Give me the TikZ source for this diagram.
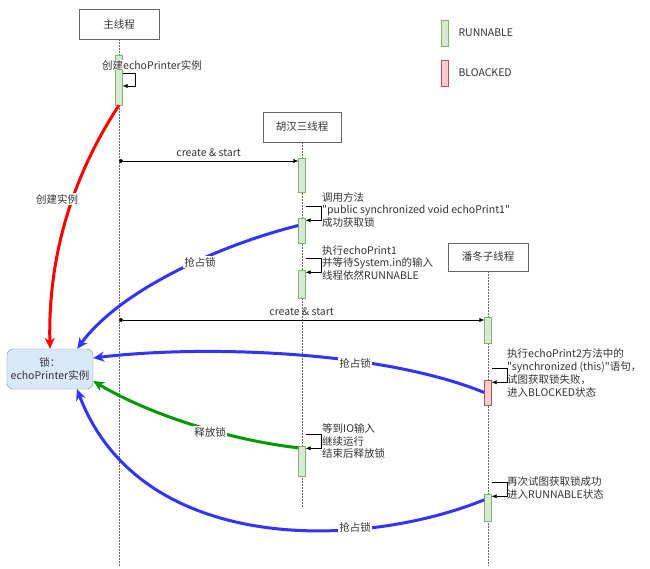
\documentclass[tikz,border=0pt]{standalone}
\usepackage{fontspec}
\newfontfamily\cjk{Noto Sans CJK SC}
\usetikzlibrary{arrows.meta,calc}
\definecolor{runFill}{HTML}{D5E8D4}
\definecolor{runLine}{HTML}{82B366}
\definecolor{blockFill}{HTML}{F8CECC}
\definecolor{blockLine}{HTML}{B85450}
\definecolor{lockFill}{HTML}{DAE8FC}
\definecolor{lockLine}{HTML}{6C8EBF}
\definecolor{boxGray}{HTML}{666666}
\definecolor{textGray}{HTML}{333333}
\definecolor{grabBlue}{HTML}{3333FF}
\definecolor{freeGreen}{HTML}{009900}

\begin{document}
\begin{tikzpicture}[x=1pt,y=-1pt,
    every node/.style={font=\cjk\fontsize{10.5}{12.7}\selectfont, text=textGray},
    threadbox/.style={draw=boxGray, fill=white, minimum width=80, minimum height=30},
    runbar/.style={draw=runLine, fill=runFill, minimum width=7, inner sep=0, minimum height=#1},
    blockbar/.style={draw=blockLine, fill=blockFill, minimum width=7, inner sep=0, minimum height=#1},
    lifeline/.style={draw=boxGray, dash pattern=on 1.5pt off 1.5pt},
    selfcall/.style={draw=black, -{Latex[length=5pt,width=4pt]}},
    message/.style={draw=black, {Circle[length=4pt]}-{Latex[length=5pt,width=4pt]}},
    note/.style={anchor=west, align=left, inner sep=0},
    lockline/.style={line width=3pt, -{Stealth[length=11pt,width=10pt]}},
    edgelabel/.style={fill=white, inner sep=1pt}]
      \useasboundingbox (0,0) rectangle (650,568);

      % Threads
      \node[threadbox] (mainT) at (119,24) {主线程};
      \node[threadbox, minimum width=78] (huT) at (302,127) {胡汉三线程};
      \node[threadbox, minimum height=28] (panT) at (488,257) {潘冬子线程};

      % Lifelines
      \coordinate (mainEnd) at (119,566);
      \coordinate (huEnd) at (302,508);
      \coordinate (panEnd) at (488,566);
      \draw[lifeline] (mainT) -- (mainEnd);
      \draw[lifeline] (huT) -- (huEnd);
      \draw[lifeline] (panT) -- (panEnd);

      % Activation bars
      \node[runbar=50] (m1) at (119,80) {};
      \node[runbar=34] (h1) at (302,175) {};
      \node[runbar=25] (h2) at (302,230.5) {};
      \node[runbar=28] (h3) at (302,284) {};
      \node[runbar=30] (h4) at (302,461) {};
      \node[runbar=26] (p1) at (488,330) {};
      \node[blockbar=25] (p2) at (488,392.5) {};
      \node[runbar=27] (p3) at (488,507.5) {};

      % Self calls
      \draw[selfcall] ($(m1.east)+(0,-7)$) -- ++(12,0) |- ($(m1.east)+(0,6)$);
      \node[fill=white, inner sep=0.5pt] (m1note) at (152,65) {创建echoPrinter实例};
      \foreach \bar in {h2,h3,h4,p2,p3}
        \draw[selfcall] ($(\bar.north east)+(0,-12)$) -- ++(15,0) |- ($(\bar.north east)+(0,2.5)$);
      \node[note] (h2note) at (322,210) {调用方法\\"public synchronized void echoPrint1"\\成功获取锁};
      \node[note] (h3note) at (322,263) {执行echoPrint1\\并等待System.in的输入\\线程依然RUNNABLE};
      \node[note] (p2note) at (507,373) {执行echoPrint2方法中的\\"synchronized (this)"语句，\\试图获取锁失败，\\进入BLOCKED状态};
      \node[note] (h4note) at (322,441) {等到IO输入\\继续运行\\结束后释放锁};
      \node[note] (p3note) at (507,488) {再次试图获取锁成功\\进入RUNNABLE状态};

      % create & start
      \coordinate (cs1) at (119,161);
      \coordinate (cs2) at (119,320);
      \draw[message] (cs1) -- (h1.west |- cs1) node[midway, above=1pt] (cs1label) {create \& start};
      \draw[message] (cs2) -- (p1.west |- cs2) node[midway, above=1pt] (cs2label) {create \& start};

      % Lock
      \node[draw=lockLine, fill=lockFill, rounded corners=6pt, minimum width=86, minimum height=40,
            align=center, inner sep=1pt] (lock) at (50,369) {锁：\\echoPrinter实例};

      % Lock edges
      \draw[lockline, red] (m1.south) .. controls (70,180) and (48,260) .. (lock.north);
      \draw[lockline, grabBlue] ($(h2.west)+(0,-5)$) .. controls (220,245) and (120,290) .. ($(lock.north east)+(-16,0)$);
      \draw[lockline, grabBlue] (p2.west) .. controls (380,350) and (200,345) .. ($(lock.east)+(0,-11)$);
      \draw[lockline, freeGreen] ($(h4.north west)+(0,2)$) .. controls (230,440) and (150,415) .. ($(lock.east)+(0,12)$);
      \draw[lockline, grabBlue] ($(p3.north west)+(0,6)$) .. controls (360,550) and (140,555) .. ($(lock.south)+(27,0)$);

      % Labels
      \node[edgelabel] (createLabel) at (57,199) {创建实例};
      \node[edgelabel] (grabLabelA) at (200,262) {抢占锁};
      \node[edgelabel] (grabLabelB) at (355,363) {抢占锁};
      \node[edgelabel] (freeLabel) at (210,432) {释放锁};
      \node[edgelabel] (grabLabelC) at (355,527) {抢占锁};

      % Legend
      \node[runbar=26] (legRun) at (445,33) {};
      \node[anchor=west] (legRunText) at (455,33) {RUNNABLE};
      \node[blockbar=26] (legBlock) at (445,73) {};
      \node[anchor=west] (legBlockText) at (455,73) {BLOACKED};
    \end{tikzpicture}
\end{document}
